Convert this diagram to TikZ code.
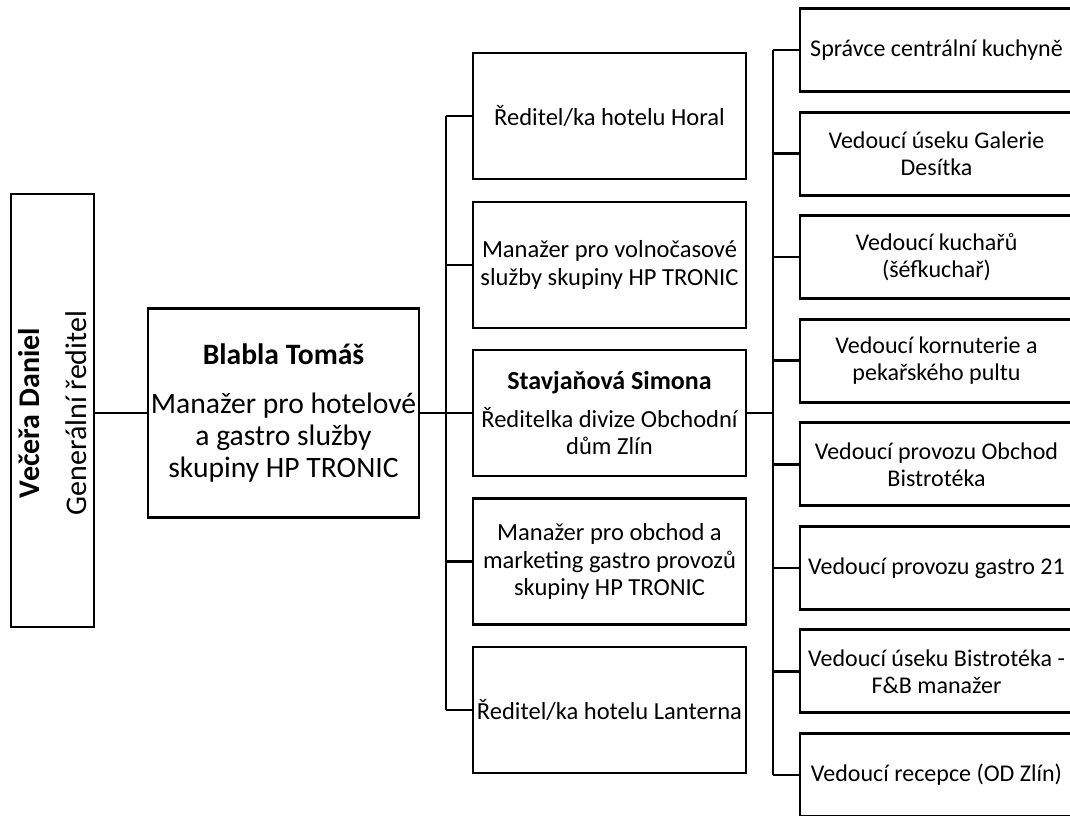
\documentclass[tikz,border=0pt]{standalone}
\usepackage{fontspec}
\setmainfont{Carlito}
\begin{document}
\begin{tikzpicture}[x=0.75pt,y=-0.75pt,
  box/.style={draw=black, line width=2.2pt, rectangle, align=center, inner sep=0pt},
  lvtwo/.style={box, minimum width=273*0.75pt, minimum height=126*0.75pt, font=\fontsize{18.4}{20.5}\selectfont},
  lvthree/.style={box, minimum width=273*0.75pt, minimum height=83*0.75pt, font=\fontsize{18}{20.3}\selectfont},
  conn/.style={line width=2pt}]
\useasboundingbox (0,0) rectangle (1070,815);

% root (rotated)
\node[box, minimum width=83*0.75pt, minimum height=433*0.75pt] (gen) at (52.5,410.5) {};
\node[rotate=90, align=center, font=\fontsize{22.5}{27}\selectfont] (gentext) at (52.5,413)
  {{\bfseries Večeřa Daniel}\\[8pt]Generální ředitel};

% level 1
\node[box, minimum width=271*0.75pt, minimum height=209*0.75pt, font=\fontsize{22.2}{24}\selectfont] (bl) at (283.5,413)
  {{\bfseries Blabla Tomáš}\\[13pt]Manažer pro hotelové\\a gastro služby\\skupiny HP TRONIC};

% level 2
\node[lvtwo] (horal) at (609.5,116) {Ředitel/ka hotelu Horal};
\node[lvtwo] (volno) at (609.5,265) {Manažer pro volnočasové\\služby skupiny HP TRONIC};
\node[lvtwo] (stav) at (609.5,413) {{\fontsize{19.5}{21}\selectfont\bfseries Stavjaňová Simona}\\[8pt]Ředitelka divize Obchodní\\dům Zlín};
\node[lvtwo] (obch) at (609.5,561.5) {Manažer pro obchod a\\marketing gastro provozů\\skupiny HP TRONIC};
\node[lvtwo] (lant) at (609.5,710) {Ředitel/ka hotelu Lanterna};

% level 3
\node[lvthree] (r1) at (936.5,50) {Správce centrální kuchyně};
\node[lvthree] (r2) at (936.5,153.6) {Vedoucí úseku Galerie\\Desítka};
\node[lvthree] (r3) at (936.5,257.1) {Vedoucí kuchařů\\(šéfkuchař)};
\node[lvthree] (r4) at (936.5,360.7) {Vedoucí kornuterie a\\pekařského pultu};
\node[lvthree] (r5) at (936.5,464.3) {Vedoucí provozu Obchod\\Bistrotéka};
\node[lvthree] (r6) at (936.5,567.9) {Vedoucí provozu gastro 21};
\node[lvthree] (r7) at (936.5,671.4) {Vedoucí úseku Bistrotéka -\\F\&B manažer};
\node[lvthree] (r8) at (936.5,775) {Vedoucí recepce (OD Zlín)};

% bus coordinates
\coordinate (busa) at (446,0);
\coordinate (busb) at (773,0);

% connectors
\draw[conn] (gen.east |- bl.west) -- (bl.west);
\draw[conn] (bl.east) -- (bl.east -| busa);
\draw[conn] (horal.west -| busa) -- (lant.west -| busa);
\foreach \n in {horal,volno,stav,obch,lant}
  \draw[conn] (\n.west) -- (\n.west -| busa);
\draw[conn] (stav.east) -- (stav.east -| busb);
\draw[conn] (r1.west -| busb) -- (r8.west -| busb);
\foreach \n in {r1,r2,r3,r4,r5,r6,r7,r8}
  \draw[conn] (\n.west) -- (\n.west -| busb);
\end{tikzpicture}
\end{document}
